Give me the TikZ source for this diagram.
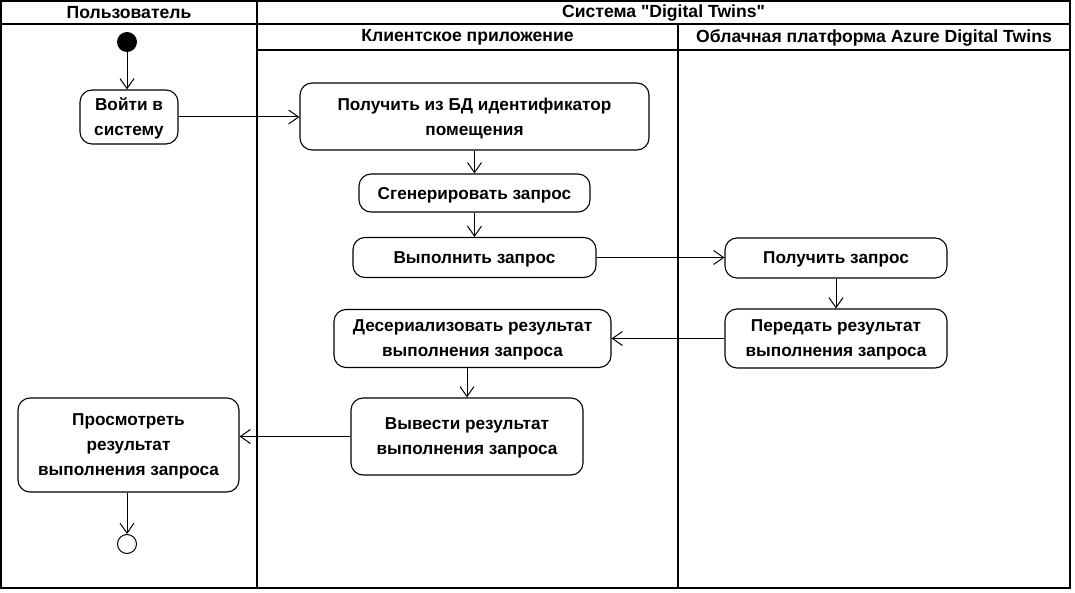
\documentclass[tikz,border=0pt]{standalone}
\usepackage{fontspec}
\setmainfont{Liberation Sans}[Ligatures=TeXOff]
\usetikzlibrary{arrows.meta}
\tikzset{
  act/.style={draw, line width=1.1pt, rounded corners=12pt, align=center, inner sep=0pt,
    text depth=0pt, font=\bfseries\fontsize{17.2}{25}\selectfont},
  lane/.style={line width=2.2pt},
  hdr/.style={font=\bfseries\fontsize{17.6}{20}\selectfont, inner sep=0pt},
  arr/.style={line width=1pt, -{Straight Barb[length=10pt,width=14pt,line width=1pt]}},
}
\begin{document}
\begin{tikzpicture}[x=1pt,y=-1pt]
\useasboundingbox (0,0) rectangle (1075,593);
% swimlanes
\draw[lane] (1,1) rectangle (1070,588);
\draw[lane] (1,24) -- (1070,24);
\draw[lane] (257,50) -- (1070,50);
\draw[lane] (257,1) -- (257,588);
\draw[lane] (678,24) -- (678,588);
\node[hdr] (h1) at (129,12.5) {Пользователь};
\node[hdr] (h2) at (663.5,12.5) {Система "Digital Twins"};
\node[hdr] (h3) at (467.5,37.5) {Клиентское приложение};
\node[hdr] (h4) at (874,37.5) {Облачная платформа Azure Digital Twins};
% nodes
\node[circle, fill=black, minimum size=20pt, inner sep=0pt] (start) at (127,42) {};
\node[act, minimum width=98pt, minimum height=54pt] (login) at (129,117) {Войти в\\систему};
\node[act, minimum width=349pt, minimum height=67pt] (getid) at (474.5,116.5) {Получить из БД идентификатор\\помещения};
\node[act, minimum width=231pt, minimum height=38pt] (gen) at (474.5,193) {Сгенерировать запрос};
\node[act, minimum width=243pt, minimum height=40pt] (exec) at (474.5,257.5) {Выполнить запрос};
\node[act, minimum width=222pt, minimum height=40pt] (recv) at (836,258) {Получить запрос};
\node[act, minimum width=222pt, minimum height=59pt] (send) at (836,338.5) {Передать результат\\выполнения запроса};
\node[act, minimum width=277pt, minimum height=58pt] (deser) at (472.5,338.5) {Десериализовать результат\\выполнения запроса};
\node[act, minimum width=232pt, minimum height=77pt] (out) at (467,436.5) {Вывести результат\\выполнения запроса};
\node[act, minimum width=221pt, minimum height=94pt] (view) at (128.5,445) {Просмотреть\\результат\\выполнения запроса};
\node[circle, draw, line width=1pt, minimum size=19pt, inner sep=0pt] (end) at (127,544) {};
% flows
\draw[arr] (start) -- (login.north -| start);
\draw[arr] (login.east) -- (login.east -| getid.west);
\draw[arr] (getid) -- (gen);
\draw[arr] (gen) -- (exec);
\draw[arr] (exec.east) -- (exec.east -| recv.west);
\draw[arr] (recv) -- (send);
\draw[arr] (send.west) -- (send.west -| deser.east);
\draw[arr] (deser.south -| out.north) -- (out.north);
\draw[arr] (out.west) -- (out.west -| view.east);
\draw[arr] (view.south -| end) -- (end);
\end{tikzpicture}
\end{document}
